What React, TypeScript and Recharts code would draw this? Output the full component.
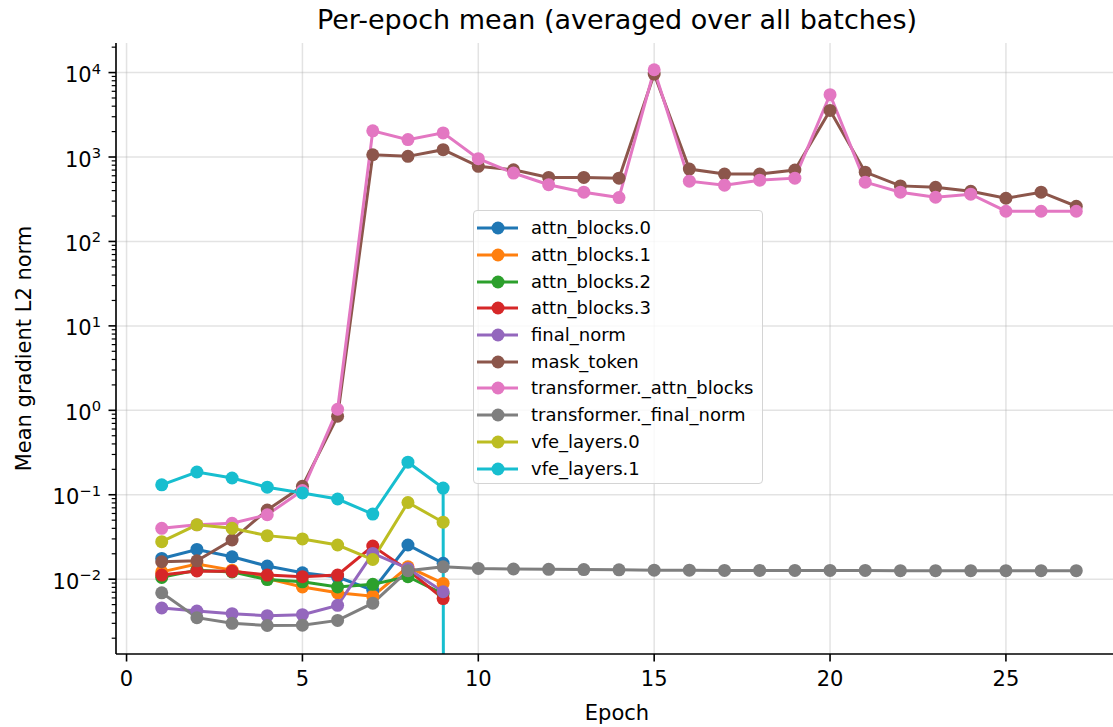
import React from 'react';
import { LineChart, Line, XAxis, YAxis, CartesianGrid, ReferenceLine } from 'recharts';

// ---------- data ----------
const epochs = [1, 2, 3, 4, 5, 6, 7, 8, 9, 10, 11, 12, 13, 14, 15, 16, 17, 18, 19, 20, 21, 22, 23, 24, 25, 26, 27];

const attnBlocks0 = [0.0176, 0.0225, 0.0184, 0.0143, 0.0119, 0.0106, 0.0074, 0.0254, 0.0154];
const attnBlocks1 = [0.0122, 0.0151, 0.0128, 0.0102, 0.0081, 0.0069, 0.0063, 0.014, 0.0089];
const attnBlocks2 = [0.0105, 0.0128, 0.0122, 0.0099, 0.0093, 0.0081, 0.0087, 0.0107, 0.0067];
const attnBlocks3 = [0.0112, 0.0125, 0.0124, 0.0112, 0.0107, 0.0112, 0.0247, 0.0128, 0.0059];
const finalNorm = [0.00456, 0.0042, 0.0039, 0.0037, 0.0038, 0.0049, 0.0202, 0.0134, 0.0071];
const maskToken = [0.0161, 0.0165, 0.0291, 0.066, 0.126, 0.85, 1064, 1018, 1222, 775, 707, 573, 573, 562, 9600, 720, 628, 628, 700, 3560, 662, 455, 437, 393, 325, 383, 261];
const transformerAttnBlocks = [0.04, 0.044, 0.046, 0.058, 0.112, 1.03, 2040, 1607, 1930, 955, 646, 470, 383, 331, 10800, 517, 464, 532, 562, 5470, 504, 383, 334, 363, 228, 228, 228];
const transformerFinalNorm = [0.0069, 0.0035, 0.003, 0.00283, 0.00285, 0.00325, 0.0052, 0.0126, 0.014, 0.0134, 0.0132, 0.0131, 0.013, 0.0129, 0.0128, 0.0128, 0.0127, 0.0127, 0.0127, 0.0127, 0.0127, 0.0126, 0.0126, 0.0126, 0.0126, 0.0126, 0.0126];
const vfeLayers0 = [0.0278, 0.044, 0.04, 0.0328, 0.03, 0.0254, 0.0171, 0.081, 0.0473];
const vfeLayers1 = [0.131, 0.186, 0.158, 0.123, 0.105, 0.089, 0.059, 0.243, 0.12, 0];

const seriesNames = [
  'attn_blocks.0', 'attn_blocks.1', 'attn_blocks.2', 'attn_blocks.3', 'final_norm',
  'mask_token', 'transformer._attn_blocks', 'transformer._final_norm', 'vfe_layers.0', 'vfe_layers.1',
];
const seriesValues = [
  attnBlocks0, attnBlocks1, attnBlocks2, attnBlocks3, finalNorm,
  maskToken, transformerAttnBlocks, transformerFinalNorm, vfeLayers0, vfeLayers1,
];
const colors = ['#1f77b4', '#ff7f0e', '#2ca02c', '#d62728', '#9467bd', '#8c564b', '#e377c2', '#7f7f7f', '#bcbd22', '#17becf'];

const xTicks = [0, 5, 10, 15, 20, 25];
const yMajorTicks = [1e-2, 1e-1, 1e0, 1e1, 1e2, 1e3, 1e4];
const yMinorMantissas = [2, 3, 4, 5, 6, 7, 8, 9];
const yMinorDecades = [-3, -2, -1, 0, 1, 2, 3, 4];

const X_DOMAIN: [number, number] = [-0.3, 28.3];
const Y_DOMAIN: [number, number] = [0.0013, 22400];
const LOG_FLOOR = 1e-300; // zero values on a log axis fall off the bottom

const FONT = '"DejaVu Sans", sans-serif';

const yMinorTicks = yMinorDecades
  .flatMap((d) => yMinorMantissas.map((m) => m * Math.pow(10, d)))
  .filter((v) => v >= Y_DOMAIN[0] && v <= Y_DOMAIN[1]);
const yAllTicks = [...yMinorTicks, ...yMajorTicks].sort((a, b) => a - b);

const series = seriesNames.map((name, i) => ({
  name,
  color: colors[i],
  data: seriesValues[i].map((v, j) => ({ epoch: epochs[j], value: v > 0 ? v : LOG_FLOOR })),
}));

const isMajor = (v: number) => yMajorTicks.some((t) => Math.abs(v - t) < t * 1e-6);

const YTick = (props: any) => {
  const { x, y, payload } = props;
  const v = payload.value as number;
  const major = isMajor(v);
  const exp = Math.round(Math.log10(v));
  const expStr = exp < 0 ? '\u2212' + String(-exp) : String(exp);
  return (
    <g>
      <line x1={x - (major ? 7.5 : 4.3)} x2={x} y1={y} y2={y} stroke="#000" strokeWidth={major ? 1.6 : 1.2} />
      {major && (
        <text x={x - 15} y={y + 9.5} textAnchor="end" fontSize={21} fill="#000" fontFamily={FONT}>
          10
          <tspan dy={-8.5} fontSize={14.7}>{expStr}</tspan>
        </text>
      )}
    </g>
  );
};

const GRID = { stroke: '#b0b0b0', strokeOpacity: 0.35, strokeWidth: 1.5 };

export default function App() {
  return (
    <div
      style={{
        position: 'absolute', left: 0, top: 0, width: 1113, height: 727,
        overflow: 'hidden', background: '#fff', fontFamily: FONT, color: '#000',
      }}
    >
      <LineChart width={1140} height={727} margin={{ top: 43, right: 18, bottom: 0, left: 0 }}>
        <CartesianGrid horizontal={false} {...GRID} />
        {yMajorTicks.map((v) => (
          <ReferenceLine key={v} y={v} {...GRID} />
        ))}
        <XAxis
          dataKey="epoch"
          type="number"
          domain={X_DOMAIN}
          allowDataOverflow
          ticks={xTicks}
          interval={0}
          height={73}
          tickSize={7.5}
          tickMargin={10}
          tick={{ fontSize: 21, fill: '#000', fontFamily: FONT }}
          axisLine={{ stroke: '#000', strokeWidth: 1.6 }}
          tickLine={{ stroke: '#000', strokeWidth: 1.6 }}
        />
        <XAxis
          xAxisId="top"
          orientation="top"
          type="number"
          domain={X_DOMAIN}
          allowDataOverflow
          height={0}
          tick={false}
          tickLine={false}
          axisLine={{ stroke: '#000', strokeWidth: 1.6 }}
        />
        <YAxis
          type="number"
          scale="log"
          domain={Y_DOMAIN}
          allowDataOverflow
          ticks={yAllTicks}
          interval={0}
          width={116}
          tickLine={false}
          tickSize={0}
          tickMargin={0}
          tick={(p: any) => <YTick {...p} />}
          axisLine={{ stroke: '#000', strokeWidth: 1.6 }}
        />
        {series.map((s) => (
          <Line
            key={s.name}
            data={s.data}
            dataKey="value"
            name={s.name}
            type="linear"
            stroke={s.color}
            strokeWidth={3}
            dot={{ r: 6.5, fill: s.color, stroke: s.color, strokeWidth: 0 }}
            activeDot={false}
            isAnimationActive={false}
          />
        ))}
      </LineChart>

      <div
        style={{
          position: 'absolute', left: 617, top: 6, transform: 'translateX(-50%)',
          fontSize: 27, lineHeight: 1, whiteSpace: 'nowrap',
        }}
      >
        Per-epoch mean (averaged over all batches)
      </div>
      <div
        style={{
          position: 'absolute', left: 617, top: 703, transform: 'translateX(-50%)',
          fontSize: 21, lineHeight: 1, whiteSpace: 'nowrap',
        }}
      >
        Epoch
      </div>
      <div
        style={{
          position: 'absolute', left: 24 - 200, top: 348.5 - 10.5, width: 400, height: 21,
          transform: 'rotate(-90deg)', textAlign: 'center', fontSize: 21, lineHeight: 1, whiteSpace: 'nowrap',
        }}
      >
        Mean gradient L2 norm
      </div>

      <div
        style={{
          position: 'absolute', left: 473, top: 210, width: 290, height: 274, boxSizing: 'border-box',
          border: '1.3px solid #d4d4d4', borderRadius: 4, background: 'rgba(255,255,255,0.8)',
          paddingTop: 4,
        }}
      >
        {series.map((s) => (
          <div key={s.name} style={{ height: 26.7, display: 'flex', alignItems: 'center' }}>
            <svg width={57} height={26} style={{ flex: 'none' }}>
              <line x1={3} x2={44} y1={13} y2={13} stroke={s.color} strokeWidth={3} />
              <circle cx={24} cy={13} r={6.5} fill={s.color} />
            </svg>
            <span style={{ fontSize: 18, lineHeight: 1, whiteSpace: 'nowrap' }}>{s.name}</span>
          </div>
        ))}
      </div>
    </div>
  );
}
